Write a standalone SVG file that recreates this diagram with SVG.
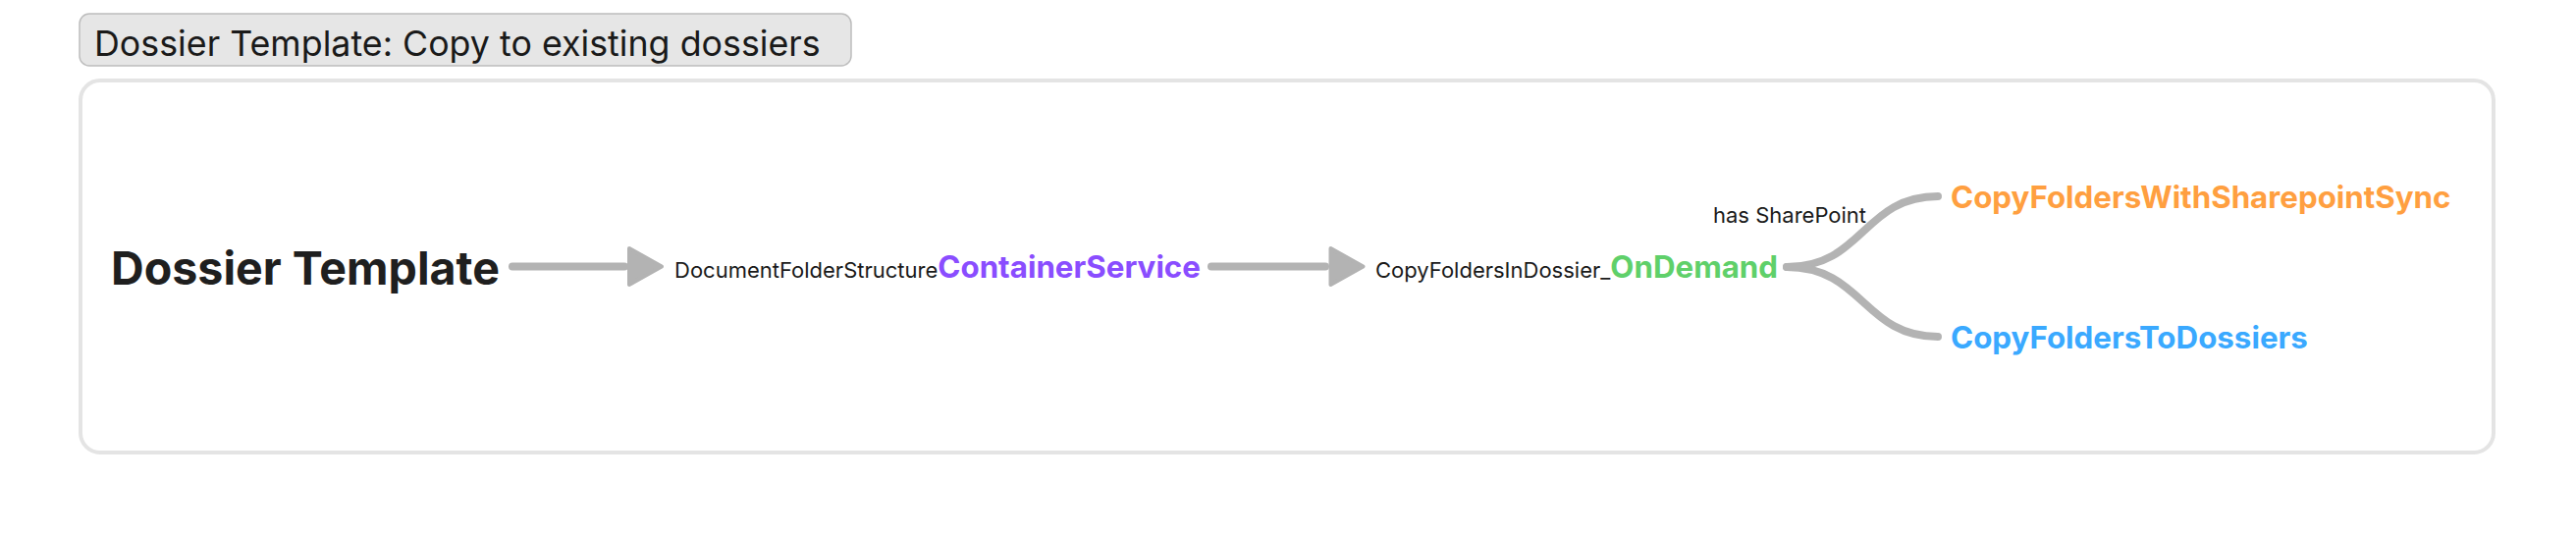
<svg xmlns="http://www.w3.org/2000/svg" width="2624" height="544" viewBox="0 0 2624 544">
<style>
text{font-family:Inter,"Noto Sans","Liberation Sans",sans-serif;}
.title{font-size:35.8px;fill:#1a1a1a;}
.root{font-size:46.6px;font-weight:700;fill:#1f1f1f;}
.small{font-size:22px;fill:#1a1a1a;}
.big{font-size:31.3px;font-weight:700;}
.link{fill:none;stroke:#b3b3b3;stroke-width:8;stroke-linecap:round;}
.head{fill:#b3b3b3;stroke:#b3b3b3;stroke-width:4;stroke-linejoin:round;}
</style>
<rect width="2624" height="544" fill="#ffffff"/>
<g id="title">
<rect x="81" y="14" width="786" height="53" rx="10" fill="#e6e6e6" stroke="#bdbdbd" stroke-width="1.5"/>
<text class="title" x="96" y="57">Dossier Template: Copy to existing dossiers</text>
</g>
<g id="frame">
<rect x="82" y="82" width="2458" height="379" rx="20" fill="#ffffff" stroke="#e4e4e4" stroke-width="4"/>
</g>
<g id="connectors">
<line class="link" x1="522" y1="271.5" x2="636" y2="271.5"/>
<path class="head" d="M641 253 L674 271.5 L641 290 Z"/>
<line class="link" x1="1234" y1="271.5" x2="1350" y2="271.5"/>
<path class="head" d="M1355.5 253 L1388.5 271.5 L1355.5 290 Z"/>
<path class="link" d="M1820 272 C1898 272 1898 200 1974 200"/>
<path class="link" d="M1820 272 C1898 272 1898 343 1974 343"/>
<text class="small" x="1745" y="227">has SharePoint</text>
</g>
<g id="node-dossier-template">
<text class="root" x="113" y="290">Dossier Template</text>
</g>
<g id="node-container-service">
<text x="687" y="283"><tspan class="small">DocumentFolderStructure</tspan><tspan class="big" fill="#8a4dff">ContainerService</tspan></text>
</g>
<g id="node-on-demand">
<text x="1401" y="283"><tspan class="small">CopyFoldersInDossier_</tspan><tspan class="big" fill="#5fd06a">OnDemand</tspan></text>
</g>
<g id="node-sharepoint-sync">
<text class="big" x="1987" y="212" fill="#ff9f40">CopyFoldersWithSharepointSync</text>
</g>
<g id="node-to-dossiers">
<text class="big" x="1987" y="355" fill="#3aa9ff">CopyFoldersToDossiers</text>
</g>
</svg>
